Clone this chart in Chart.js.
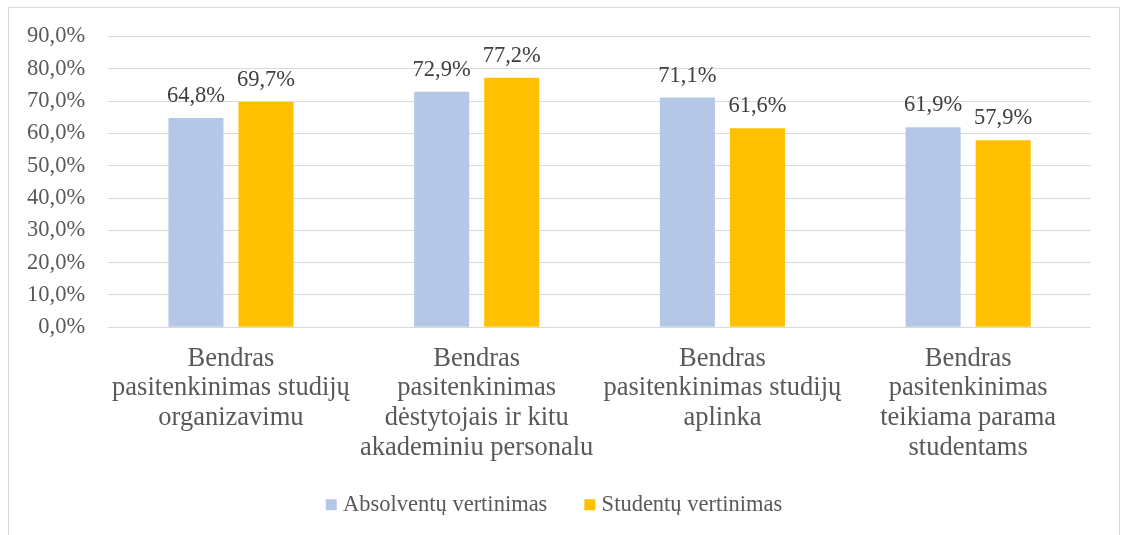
<!DOCTYPE html>
<html>
<head>
<meta charset="utf-8">
<script src="https://cdn.jsdelivr.net/npm/chart.js@4.4.1/dist/chart.umd.min.js"></script>
<style>
  html, body { margin: 0; padding: 0; background: #fff; overflow: hidden; }
  #wrap { position: relative; width: 1123px; height: 535px; }
  #frame { position: absolute; left: 8px; top: 7px; width: 1110px; height: 600px; border: 1px solid #d9d9d9; pointer-events: none; }
  canvas { position: absolute; left: 0; top: 0; }
</style>
</head>
<body>
<div id="wrap">
  <canvas id="chart" width="1123" height="535"></canvas>
  <div id="frame"></div>
</div>
<script>
// categories (multi-line labels as in the original)
const categories = [
  ["Bendras", "pasitenkinimas studijų", "organizavimu"],
  ["Bendras", "pasitenkinimas", "dėstytojais ir kitu", "akademiniu personalu"],
  ["Bendras", "pasitenkinimas studijų", "aplinka"],
  ["Bendras", "pasitenkinimas", "teikiama parama", "studentams"]
];
const seriesNames = ["Absolventų vertinimas", "Studentų vertinimas"];
const graduates = [64.8, 72.9, 71.1, 61.9];
const students = [69.7, 77.2, 61.6, 57.9];
const yTicks = [0, 10, 20, 30, 40, 50, 60, 70, 80, 90];

const fmt = v => v.toFixed(1).replace(".", ",") + "%";
const serif = "'Liberation Serif', 'Times New Roman', serif";

// value labels above the bars
const barLabels = {
  id: "barLabels",
  afterDatasetsDraw(chart) {
    const ctx = chart.ctx;
    ctx.save();
    ctx.font = "22.5px " + serif;
    ctx.fillStyle = "#404040";
    ctx.textAlign = "center";
    ctx.textBaseline = "alphabetic";
    chart.data.datasets.forEach((ds, i) => {
      chart.getDatasetMeta(i).data.forEach((bar, j) => {
        ctx.fillText(fmt(ds.data[j]), bar.x, bar.y - 16);
      });
    });
    ctx.restore();
  }
};

// legend sits a bit closer to the axis labels than the layout allows
const legendShift = {
  id: "legendShift",
  afterLayout(chart) {
    const lg = chart.legend;
    lg.top -= 20;
    lg.bottom -= 20;
    lg.left += 9;
    lg.right += 9;
  }
};

new Chart(document.getElementById("chart"), {
  type: "bar",
  data: {
    labels: categories,
    datasets: [
      {
        label: seriesNames[0],
        data: graduates,
        backgroundColor: "#b4c7e7",
        borderWidth: 0,
        categoryPercentage: 0.57,
        barPercentage: 0.786
      },
      {
        label: seriesNames[1],
        data: students,
        backgroundColor: "#ffc000",
        borderWidth: 0,
        categoryPercentage: 0.57,
        barPercentage: 0.786
      }
    ]
  },
  options: {
    responsive: false,
    devicePixelRatio: 1,
    animation: false,
    layout: { padding: { left: 4, right: 32, top: 26.4, bottom: 0 } },
    plugins: {
      tooltip: { enabled: false },
      legend: {
        position: "bottom",
        maxHeight: 63.5,
        labels: {
          usePointStyle: true,
          pointStyle: "rect",
          boxWidth: 1,
          boxHeight: 11,
          padding: 42,
          color: "#595959",
          font: { family: serif, size: 22.5 }
        }
      }
    },
    scales: {
      x: {
        grid: { display: false },
        border: { display: false },
        ticks: {
          autoSkip: false,
          maxRotation: 0,
          padding: 8.5,
          color: "#595959",
          font: { family: serif, size: 26.5, lineHeight: 1.125 }
        }
      },
      y: {
        min: 0,
        max: 90,
        afterBuildTicks(scale) { scale.ticks = yTicks.map(v => ({ value: v })); },
        grid: { color: "#d9d9d9", lineWidth: 1, drawTicks: false },
        border: { display: false },
        ticks: {
          autoSkip: false,
          padding: 23,
          color: "#595959",
          font: { family: serif, size: 22.5 },
          callback: v => fmt(v)
        }
      }
    }
  },
  plugins: [barLabels, legendShift]
});
</script>
</body>
</html>
